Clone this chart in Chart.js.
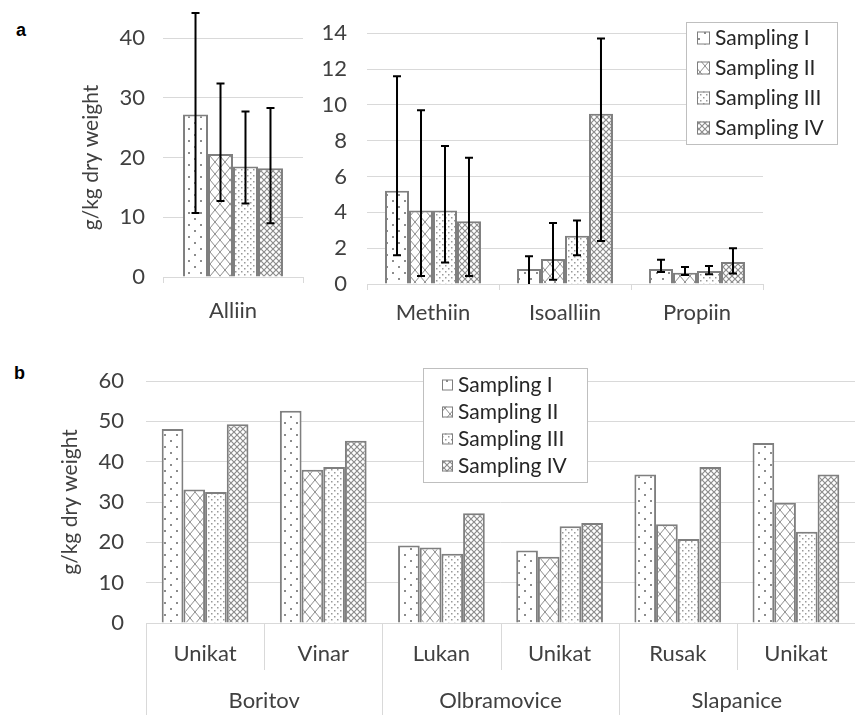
<!DOCTYPE html>
<html>
<head>
<meta charset="utf-8">
<script src="https://cdn.jsdelivr.net/npm/chart.js@4.4.1/dist/chart.umd.min.js"></script>
<style>
  body { margin: 0; background: #fff; }
  #wrap { position: relative; width: 855px; height: 715px; overflow: hidden; }
  canvas { position: absolute; }
  .tag { position: absolute; font: bold 18px Arial, "Liberation Sans", sans-serif; line-height: 18px; color: #000; }
</style>
</head>
<body>
<div id="wrap">
  <div class="tag" style="left:16px; top:21px;">a</div>
  <div class="tag" style="left:14px; top:364px;">b</div>
  <canvas id="chartAlliin" width="310" height="330" style="left:0; top:0;"></canvas>
  <canvas id="chartMinor" width="555" height="330" style="left:300px; top:0;"></canvas>
  <canvas id="chartSites" width="855" height="385" style="left:0; top:330px;"></canvas>
</div>
<script>
// ---- data ----
const samplingLabels = ["Sampling I", "Sampling II", "Sampling III", "Sampling IV"];

// panel a, left: Alliin, one value per sampling
const alliinCategory = ["Alliin"];
const alliinMean = [27.2, 20.6, 18.5, 18.2];
const alliinLow  = [10.7, 12.7, 12.3, 9.0];
const alliinHigh = [44.2, 32.4, 27.7, 28.3];

// panel a, right: minor cysteine sulfoxides
const minorCategories = ["Methiin", "Isoalliin", "Propiin"];
const minorI   = [5.2, 0.84, 0.84];
const minorII  = [4.1, 1.4, 0.63];
const minorIII = [4.1, 2.7, 0.73];
const minorIV  = [3.5, 9.5, 1.23];
const minorILow    = [1.6, -0.1, 0.67];
const minorIHigh   = [11.6, 1.55, 1.36];
const minorIILow   = [0.45, 0.24, 0.5];
const minorIIHigh  = [9.7, 3.4, 0.95];
const minorIIILow  = [1.2, 1.6, 0.54];
const minorIIIHigh = [7.7, 3.55, 1.0];
const minorIVLow   = [0.45, 2.4, 0.58];
const minorIVHigh  = [7.05, 13.7, 2.0];

// panel b: alliin by locality / cultivar
const cultivars = ["Unikat", "Vinar", "Lukan", "Unikat", "Rusak", "Unikat"];
const localities = ["Boritov", "Olbramovice", "Slapanice"];
const siteI   = [48.1, 52.6, 19.2, 18.0, 36.8, 44.6];
const siteII  = [33.1, 38.0, 18.7, 16.4, 24.5, 29.8];
const siteIII = [32.5, 38.7, 17.2, 24.0, 20.8, 22.6];
const siteIV  = [49.3, 45.2, 27.2, 24.8, 38.7, 36.8];

// ---- look ----
const FONT = "Lato, 'Open Sans', sans-serif";
const TEXT = "#404040";
const GRID = "#d9d9d9";
const EDGE = "#7f7f7f";
const TICK_SIZE = 22;

function makePattern(kind) {
  const c = document.createElement("canvas");
  const sizes = { sparse: [12, 12], cross: [10, 12], fine: [6, 6], mesh: [6, 6] };
  [c.width, c.height] = sizes[kind];
  const g = c.getContext("2d");
  g.fillStyle = "#fff";
  g.fillRect(0, 0, c.width, c.height);
  g.fillStyle = "#8c8c8c";
  g.strokeStyle = "#8c8c8c";
  if (kind === "sparse") {
    g.fillRect(2, 2, 2, 2);
    g.fillRect(8, 8, 2, 2);
  } else if (kind === "fine") {
    g.fillStyle = "#999";
    g.fillRect(1, 1, 1.5, 1.5);
    g.fillRect(4, 4, 1.5, 1.5);
  } else {
    g.lineWidth = kind === "mesh" ? 1.2 : 1;
    g.beginPath();
    g.moveTo(0, 0); g.lineTo(c.width, c.height);
    g.moveTo(c.width, 0); g.lineTo(0, c.height);
    g.stroke();
  }
  return g.createPattern(c, "repeat");
}
const fills = [makePattern("sparse"), makePattern("cross"), makePattern("fine"), makePattern("mesh")];

// error bars drawn from dataset errLow/errHigh through the y scale
const errorBars = {
  id: "errorBars",
  afterDatasetsDraw(chart) {
    const ctx = chart.ctx, y = chart.scales.y;
    ctx.save();
    ctx.strokeStyle = "#000";
    ctx.lineWidth = 2;
    chart.data.datasets.forEach((ds, i) => {
      if (!ds.errLow) return;
      chart.getDatasetMeta(i).data.forEach((bar, j) => {
        const lo = ds.errLow[j], hi = ds.errHigh[j];
        const yTop = y.getPixelForValue(hi);
        const clipped = lo < y.min;
        const yBot = y.getPixelForValue(clipped ? y.min : lo);
        ctx.beginPath();
        ctx.moveTo(bar.x, yTop); ctx.lineTo(bar.x, yBot);
        ctx.moveTo(bar.x - 4, yTop); ctx.lineTo(bar.x + 4, yTop);
        if (!clipped) { ctx.moveTo(bar.x - 4, yBot); ctx.lineTo(bar.x + 4, yBot); }
        ctx.stroke();
      });
    });
    ctx.restore();
  }
};

// floating legend box (Excel style, sits over the plot)
const legendBox = {
  id: "legendBox",
  afterDraw(chart, args, o) {
    if (!o || !o.w) return;
    const ctx = chart.ctx;
    ctx.save();
    ctx.fillStyle = "#fff";
    ctx.fillRect(o.x, o.y, o.w, o.h);
    ctx.strokeStyle = "#bfbfbf";
    ctx.lineWidth = 1;
    ctx.strokeRect(o.x + 0.5, o.y + 0.5, o.w, o.h);
    ctx.font = o.size + "px " + FONT;
    ctx.textBaseline = "middle";
    chart.data.datasets.forEach((ds, i) => {
      const cy = o.y + o.first + i * o.step;
      const sx = o.x + o.pad;
      ctx.fillStyle = ds.backgroundColor;
      ctx.fillRect(sx, cy - o.box / 2, o.box, o.box);
      ctx.strokeStyle = EDGE;
      ctx.strokeRect(sx + 0.5, cy - o.box / 2 + 0.5, o.box - 1, o.box - 1);
      ctx.fillStyle = "#262626";
      ctx.fillText(ds.label, sx + o.box + 5, cy);
    });
    ctx.restore();
  }
};

// subcategory / group separators under the x axis in panel b
const groupLines = {
  id: "groupLines",
  afterDraw(chart, args, o) {
    if (!o || !o.shortEnd) return;
    const ctx = chart.ctx, x = chart.scales.x, area = chart.chartArea;
    ctx.save();
    ctx.strokeStyle = GRID;
    ctx.lineWidth = 1;
    for (let i = 0; i <= cultivars.length; i++) {
      const px = Math.round(x.getPixelForValue(i - 0.5)) + 0.5;
      const end = i % 2 === 0 ? chart.height : o.shortEnd;
      ctx.beginPath();
      ctx.moveTo(px, area.bottom);
      ctx.lineTo(px, end);
      ctx.stroke();
    }
    ctx.restore();
  }
};

function barSet(label, data, k, low, high) {
  const ds = {
    label, data,
    backgroundColor: fills[k],
    borderColor: EDGE,
    borderWidth: 2,
    borderSkipped: "bottom"
  };
  if (low) { ds.errLow = low; ds.errHigh = high; }
  return ds;
}

function yScale(max, step, width, pad, titlePad) {
  return {
    min: 0, max,
    ticks: { stepSize: step, padding: pad, color: TEXT, font: { family: FONT, size: TICK_SIZE } },
    grid: { color: GRID, lineWidth: 1, drawTicks: false },
    border: { display: false },
    title: titlePad == null ? { display: false } : {
      display: true, text: "g/kg dry weight", color: TEXT,
      font: { family: FONT, size: 21 }, padding: { top: titlePad, bottom: 0 }
    },
    afterFit: s => { s.width = width; }
  };
}

function xScale(height, pad, ticks) {
  return {
    offset: true,
    ticks: { padding: pad, color: TEXT, font: { family: FONT, size: TICK_SIZE }, maxRotation: 0, autoSkip: false },
    grid: ticks
      ? { color: GRID, drawOnChartArea: false, drawTicks: true, tickLength: 6, offset: true }
      : { display: false },
    border: { display: true, color: GRID, width: 1 },
    afterFit: s => { s.height = height; }
  };
}

const common = {
  responsive: false,
  animation: false,
  events: []
};

new Chart(document.getElementById("chartAlliin"), {
  type: "bar",
  data: {
    labels: alliinCategory,
    datasets: samplingLabels.map((lab, k) =>
      barSet(lab, [alliinMean[k]], k, [alliinLow[k]], [alliinHigh[k]]))
  },
  options: {
    ...common,
    layout: { padding: { top: 38, right: 7, left: 0, bottom: 0 } },
    datasets: { bar: { categoryPercentage: 0.714, barPercentage: 1 } },
    plugins: { legend: { display: false }, tooltip: { enabled: false } },
    scales: { x: xScale(53, 15, true), y: yScale(40, 10, 163, 18, 79) }
  },
  plugins: [errorBars]
});

const minorSeries = [minorI, minorII, minorIII, minorIV];
const minorLows = [minorILow, minorIILow, minorIIILow, minorIVLow];
const minorHighs = [minorIHigh, minorIIHigh, minorIIIHigh, minorIVHigh];

new Chart(document.getElementById("chartMinor"), {
  type: "bar",
  data: {
    labels: minorCategories,
    datasets: samplingLabels.map((lab, k) => barSet(lab, minorSeries[k], k, minorLows[k], minorHighs[k]))
  },
  options: {
    ...common,
    layout: { padding: { top: 33, right: 92, left: 0, bottom: 0 } },
    datasets: { bar: { categoryPercentage: 0.727, barPercentage: 1 } },
    plugins: {
      legend: { display: false }, tooltip: { enabled: false },
      legendBox: { x: 386, y: 22, w: 151, h: 122, first: 16, step: 30, pad: 11, box: 13, size: 21 }
    },
    scales: { x: xScale(46, 10, true), y: yScale(14, 2, 67, 20, null) }
  },
  plugins: [errorBars, legendBox]
});

const siteSeries = [siteI, siteII, siteIII, siteIV];

new Chart(document.getElementById("chartSites"), {
  type: "bar",
  data: {
    labels: cultivars,
    datasets: samplingLabels.map((lab, k) => barSet(lab, siteSeries[k], k))
  },
  options: {
    ...common,
    layout: { padding: { top: 51, right: 0, left: 0, bottom: 0 } },
    datasets: { bar: { categoryPercentage: 0.734, barPercentage: 1 } },
    plugins: {
      legend: { display: false }, tooltip: { enabled: false },
      legendBox: { x: 423, y: 38, w: 164, h: 114, first: 17, step: 27, pad: 19, box: 11, size: 21 },
      groupLines: { shortEnd: 340 }
    },
    scales: {
      x: { ...xScale(46, 10, false), weight: 0 },
      x2: {
        type: "category", labels: localities, position: "bottom", weight: 1, offset: true,
        ticks: { padding: 11, color: TEXT, font: { family: FONT, size: TICK_SIZE }, maxRotation: 0 },
        grid: { display: false }, border: { display: false },
        afterFit: s => { s.height = 46; }
      },
      y: yScale(60, 10, 146, 22, 58)
    }
  },
  plugins: [legendBox, groupLines]
});
</script>
</body>
</html>
